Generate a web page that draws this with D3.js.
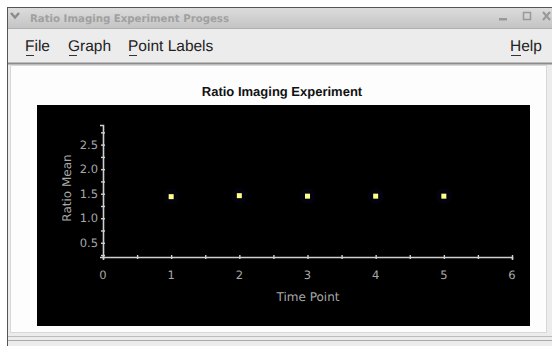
<!DOCTYPE html>
<html>
<head>
<meta charset="utf-8">
<script src="https://cdn.jsdelivr.net/npm/d3@7"></script>
<style>
  html, body { margin: 0; padding: 0; background: #fff; }
  svg { display: block; }
  text { text-rendering: geometricPrecision; }
</style>
</head>
<body>
<svg id="chart" width="552" height="346"></svg>
<script>
// data
var timePoints = [1, 2, 3, 4, 5];
var ratioMeans = [1.44, 1.46, 1.45, 1.45, 1.45];
var xTicks = [0, 1, 2, 3, 4, 5, 6];
var yTicks = [0.5, 1.0, 1.5, 2.0, 2.5];
var menuItems = ["File", "Graph", "Point Labels"];

var svg = d3.select("#chart");

/* window chrome */
var defs = svg.append("defs");
var grad = defs.append("linearGradient").attr("id", "titlebar")
    .attr("x1", 0).attr("y1", 0).attr("x2", 0).attr("y2", 1);
grad.append("stop").attr("offset", "0%").attr("stop-color", "#dcdcdc");
grad.append("stop").attr("offset", "100%").attr("stop-color", "#c4c4c4");

svg.append("rect").attr("x", 0).attr("y", 0).attr("width", 552).attr("height", 346).attr("fill", "#fff");
svg.append("rect").attr("x", 7.5).attr("y", 7.5).attr("width", 560).attr("height", 345)
    .attr("fill", "#ececec").attr("stroke", "#555");
svg.append("rect").attr("x", 8).attr("y", 8).attr("width", 560).attr("height", 20).attr("fill", "url(#titlebar)");
svg.append("line").attr("x1", 8).attr("x2", 552).attr("y1", 28.5).attr("y2", 28.5).attr("stroke", "#b0b0b0");

svg.append("path").attr("d", "M11,13 L15,17.5 L19,13").attr("fill", "none")
    .attr("stroke", "#8a8a8a").attr("stroke-width", 2.4);
svg.append("text").attr("x", 30).attr("y", 22)
    .attr("textLength", 199).attr("lengthAdjust", "spacingAndGlyphs")
    .style("font-family", "DejaVu Sans").style("font-size", "10.5px").style("font-weight", "bold")
    .attr("fill", "#a0a0a0").text("Ratio Imaging Experiment Progess");
// min / max / close
svg.append("rect").attr("x", 499).attr("y", 18).attr("width", 8).attr("height", 2.5).attr("fill", "#999");
svg.append("rect").attr("x", 523.5).attr("y", 12.5).attr("width", 7).attr("height", 7)
    .attr("fill", "none").attr("stroke", "#999").attr("stroke-width", 1.5);
svg.append("path").attr("d", "M543,12 L550,20 M550,12 L543,20").attr("stroke", "#999").attr("stroke-width", 2.2);

// menu bar
var menuX = [25, 68, 128];
var menuFont = "15.5px";
svg.selectAll("text.menu").data(menuItems).enter().append("text")
    .attr("class", "menu")
    .attr("x", function(d, i) { return menuX[i]; })
    .attr("y", 51)
    .style("font-family", "Liberation Sans, Arial, sans-serif").style("font-size", menuFont)
    .attr("fill", "#222").text(function(d) { return d; });
svg.selectAll("line.mnemonic").data(menuItems).enter().append("line")
    .attr("class", "mnemonic")
    .attr("x1", function(d, i) { return menuX[i] + 1; })
    .attr("x2", function(d, i) { return menuX[i] + 9; })
    .attr("y1", 55.5).attr("y2", 55.5).attr("stroke", "#333");
svg.append("text").attr("x", 510).attr("y", 51)
    .style("font-family", "Liberation Sans, Arial, sans-serif").style("font-size", menuFont)
    .attr("fill", "#222").text("Help");
svg.append("line").attr("x1", 511).attr("x2", 521).attr("y1", 55.5).attr("y2", 55.5).attr("stroke", "#333");

svg.append("rect").attr("x", 8).attr("y", 62.5).attr("width", 560).attr("height", 2).attr("fill", "#8c8c8c");

// white content panel
svg.append("rect").attr("x", 10.5).attr("y", 65.5).attr("width", 536).attr("height", 267)
    .attr("fill", "#fdfdfd").attr("stroke", "#d8d8d8");
svg.append("line").attr("x1", 8).attr("x2", 552).attr("y1", 336.5).attr("y2", 336.5).attr("stroke", "#bbb");
svg.append("line").attr("x1", 8).attr("x2", 552).attr("y1", 340.5).attr("y2", 340.5).attr("stroke", "#aaa");

/* chart */
svg.append("text").attr("x", 282).attr("y", 96).attr("text-anchor", "middle")
    .style("font-family", "Liberation Sans, Arial, sans-serif").style("font-size", "13px").style("font-weight", "bold")
    .attr("fill", "#111").text("Ratio Imaging Experiment");

svg.append("rect").attr("x", 37).attr("y", 105).attr("width", 493).attr("height", 221).attr("fill", "#000");

var x = d3.scaleLinear().domain([0, 6]).range([103, 512]);
var y = d3.scaleLinear().domain([0.21, 2.9]).range([257, 125]);

var axisColor = "#d0d0d0";
var labelColor = "#a8a8a8";

var xAxis = svg.append("g").attr("transform", "translate(0,257)")
    .call(d3.axisBottom(x).tickValues(d3.range(0, 6.01, 0.5)).tickSize(3).tickFormat(""));
var yAxis = svg.append("g").attr("transform", "translate(103,0)")
    .call(d3.axisLeft(y).tickValues(d3.range(0.25, 2.9, 0.25)).tickSize(3).tickFormat(""));
[xAxis, yAxis].forEach(function(a) {
  a.select(".domain").attr("stroke", axisColor).attr("stroke-width", 1.6);
  a.selectAll(".tick line").attr("stroke", axisColor).attr("stroke-width", 1.4);
});
// ticks stick out on both sides
xAxis.selectAll(".tick line").attr("y1", -2).attr("y2", 2);
yAxis.selectAll(".tick line").attr("x1", -2).attr("x2", 2);

svg.selectAll("text.xlab").data(xTicks).enter().append("text")
    .attr("class", "xlab")
    .attr("x", function(d) { return x(d); }).attr("y", 279)
    .attr("text-anchor", "middle")
    .style("font-family", "DejaVu Sans, sans-serif").style("font-size", "11.5px")
    .attr("fill", labelColor).text(function(d) { return d; });

svg.selectAll("text.ylab").data(yTicks).enter().append("text")
    .attr("class", "ylab")
    .attr("x", 98).attr("y", function(d) { return y(d) + 4; })
    .attr("text-anchor", "end")
    .style("font-family", "DejaVu Sans, sans-serif").style("font-size", "11.5px")
    .attr("fill", labelColor).text(function(d) { return d.toFixed(1); });

svg.append("text").attr("x", 308).attr("y", 301).attr("text-anchor", "middle")
    .style("font-family", "DejaVu Sans, sans-serif").style("font-size", "12px")
    .attr("fill", labelColor).text("Time Point");

svg.append("text").attr("transform", "translate(71,188) rotate(-90)").attr("text-anchor", "middle")
    .style("font-family", "DejaVu Sans, sans-serif").style("font-size", "12px")
    .attr("fill", labelColor).text("Ratio Mean");

// points: small yellow squares with a faint blue halo
svg.selectAll("circle.halo").data(timePoints).enter().append("circle")
    .attr("class", "halo")
    .attr("cx", function(d) { return x(d); })
    .attr("cy", function(d, i) { return y(ratioMeans[i]); })
    .attr("r", 8).attr("fill", "#05051a").attr("opacity", 0.5);
svg.selectAll("rect.pt").data(timePoints).enter().append("rect")
    .attr("class", "pt")
    .attr("x", function(d) { return x(d) - 2.5; })
    .attr("y", function(d, i) { return y(ratioMeans[i]) - 2.5; })
    .attr("width", 5).attr("height", 5).attr("fill", "#ffff8a");
</script>
</body>
</html>
